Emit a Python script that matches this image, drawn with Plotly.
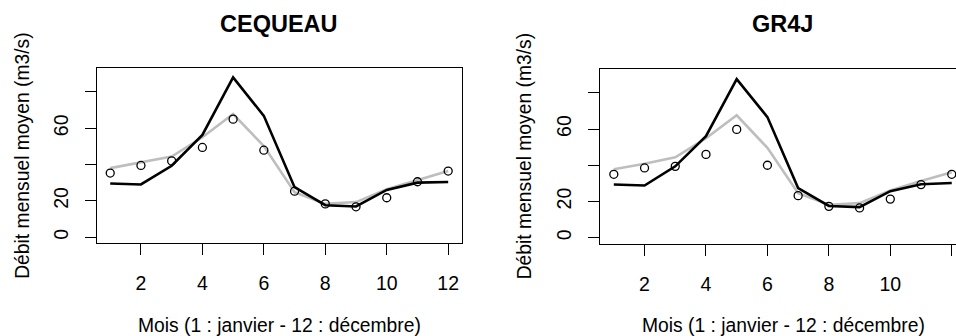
import plotly.graph_objects as go

months = list(range(1, 13))

# Black line (panel 1 and 2)
black_cequeau = [29.5, 29.0, 39.3, 56.3, 88.0, 66.8, 27.5, 17.6, 16.9, 26.0, 30.0, 30.4]
black_gr4j = [29.4, 28.8, 39.4, 56.1, 87.6, 66.6, 27.4, 17.5, 16.9, 25.7, 29.5, 30.2]
# Gray line
gray_cequeau = [38.0, 41.0, 44.4, 55.0, 67.8, 50.2, 24.8, 18.3, 19.3, 26.4, 31.2, 36.4]
gray_gr4j = [37.8, 40.8, 44.4, 54.9, 67.6, 49.6, 24.6, 18.2, 19.1, 26.1, 31.3, 36.2]
# Open circles
circ_cequeau = [35.3, 39.5, 42.0, 49.4, 65.0, 47.9, 25.3, 18.3, 16.7, 21.7, 30.5, 36.4]
circ_gr4j = [35.0, 38.5, 39.4, 46.0, 59.8, 40.0, 23.2, 17.3, 16.4, 21.3, 29.3, 35.0]

panel_titles = ["CEQUEAU", "GR4J"]
x_title = "Mois (1 : janvier - 12 : décembre)"
y_title = "Débit mensuel moyen (m3/s)"
x_tickvals = [2, 4, 6, 8, 10, 12]
y_tickvals = [0, 20, 40, 60, 80]
y_ticktext = ["0", "20", "", "60", ""]

W, H = 956, 336
FONT = "Liberation Sans, Arial, Helvetica, sans-serif"
GRAY = "#bebebe"

fig = go.Figure()
panels = [
    (black_cequeau, gray_cequeau, circ_cequeau, "x", "y"),
    (black_gr4j, gray_gr4j, circ_gr4j, "x2", "y2"),
]
for blk, gry, cir, xa, ya in panels:
    fig.add_trace(go.Scatter(x=months, y=gry, mode="lines", xaxis=xa, yaxis=ya,
                             line=dict(color=GRAY, width=2.6), showlegend=False))
    fig.add_trace(go.Scatter(x=months, y=blk, mode="lines", xaxis=xa, yaxis=ya,
                             line=dict(color="black", width=2.6), showlegend=False))
    fig.add_trace(go.Scatter(x=months, y=cir, mode="markers", xaxis=xa, yaxis=ya,
                             marker=dict(symbol="circle-open", size=8, color="black",
                                         line=dict(width=1.3, color="black")),
                             showlegend=False))

common_x = dict(tickvals=x_tickvals, ticks="outside", ticklen=11, tickwidth=1,
                tickcolor="black", showgrid=False, zeroline=False, showline=True,
                linecolor="black", linewidth=1.2,
                tickfont=dict(family=FONT, size=19.5, color="black"),
                ticklabelstandoff=11)
common_y = dict(tickvals=y_tickvals, ticktext=y_ticktext, ticks="outside", ticklen=11,
                tickwidth=1, tickcolor="black", showgrid=False, zeroline=False,
                showline=True, linecolor="black", linewidth=1.2, tickangle=-90,
                tickfont=dict(family=FONT, size=19.5, color="black"),
                ticklabelstandoff=9)

fig.update_layout(
    width=W, height=H, autosize=False,
    margin=dict(l=0, r=0, t=0, b=0),
    paper_bgcolor="white", plot_bgcolor="white",
    xaxis=dict(domain=[96.7 / W, 461.7 / W], range=[0.56, 12.44], anchor="y",
               mirror=True, **common_x),
    yaxis=dict(domain=[1 - 243.3 / H, 1 - 68.3 / H], range=[-3.4, 93.0], anchor="x",
               mirror=True, **common_y),
    xaxis2=dict(domain=[600.3 / W, 1.0], range=[0.56, 0.56 + (956 - 600.3) / 30.72],
                anchor="y2", mirror=True, **common_x),
    yaxis2=dict(domain=[1 - 244.0 / H, 1 - 69.3 / H], range=[-3.5, 93.0], anchor="x2",
                mirror=False, **common_y),
)

annos = []
for cx, title in [(279.2, panel_titles[0]), (782.4, panel_titles[1])]:
    annos.append(dict(text="<b>%s</b>" % title, x=cx / W, y=1 - 24.5 / H, xref="paper",
                      yref="paper", showarrow=False, xanchor="center", yanchor="middle",
                      font=dict(family=FONT, size=23.5, color="black")))
for cx in [279.7, 783.5]:
    annos.append(dict(text=x_title, x=cx / W, y=1 - 325 / H, xref="paper", yref="paper",
                      showarrow=False, xanchor="center", yanchor="middle",
                      font=dict(family=FONT, size=19.3, color="black")))
for cx, cy in [(23.0, 155.8), (524.7, 156.6)]:
    annos.append(dict(text=y_title, x=cx / W, y=1 - cy / H, xref="paper", yref="paper",
                      showarrow=False, xanchor="center", yanchor="middle", textangle=-90,
                      font=dict(family=FONT, size=19.3, color="black")))
fig.update_layout(annotations=annos)

fig.write_html("out.html")
